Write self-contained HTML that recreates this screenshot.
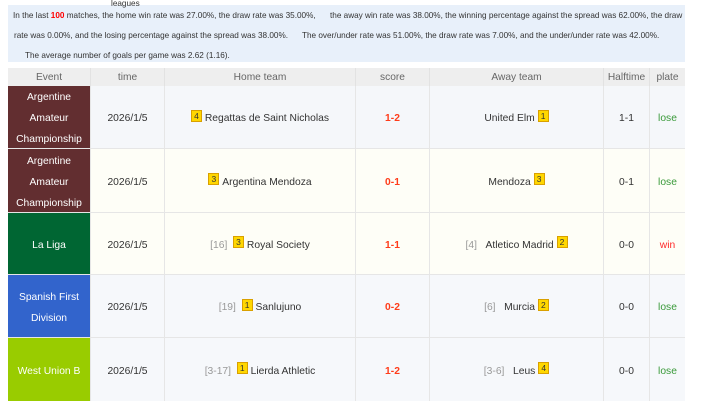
<!DOCTYPE html>
<html><head><meta charset="utf-8"><style>
*{margin:0;padding:0;box-sizing:border-box}
body{width:710px;height:419px;overflow:hidden;background:#fff;font-family:"Liberation Sans",Arial,sans-serif;position:relative;color:#333}
.a{position:absolute;white-space:pre}
.top{position:absolute;left:8px;top:5px;width:677px;height:57px;background:#e8f0fa}
.tt{font-size:8.2px;line-height:10px;color:#333}
.red{color:#f00;font-weight:bold}
.hdr{position:absolute;top:68px;height:18px;background:#eeeeee;color:#666;font-size:10.2px;display:flex;align-items:center;justify-content:center;border-right:1px solid #e2e2e2}
.row{position:absolute;left:8px;width:677px;border-bottom:1px solid #e6e6e6}
.c{position:absolute;top:0;height:100%;padding-top:3px;display:flex;align-items:center;justify-content:center;font-size:10.3px;color:#333;border-right:1px solid #e6e6e6;text-align:center}
.ev{color:#fff;line-height:21px;border-right:none}
.b{display:inline-block;width:11px;height:12px;background:#ffd700;border:1px solid #d9a000;font-size:8.5px;line-height:10px;text-align:center;color:#333;vertical-align:middle;position:relative;top:-3px}
.rk{color:#999}
.sc{color:#ff3c1a;font-weight:bold}
.lose{color:#3a9a3a}
.win{color:#ff2a2a}
</style></head><body>
<div class="top"></div>
<div class="a tt" style="left:111px;top:-1px">leagues</div>
<div class="a tt" style="left:13px;top:11px">In the last <span class="red">100</span> matches, the home win rate was 27.00%, the draw rate was 35.00%,</div>
<div class="a tt" style="left:330px;top:11px">the away win rate was 38.00%, the winning percentage against the spread was 62.00%, the draw</div>
<div class="a tt" style="left:14px;top:31px">rate was 0.00%, and the losing percentage against the spread was 38.00%.</div>
<div class="a tt" style="left:302px;top:31px">The over/under rate was 51.00%, the draw rate was 7.00%, and the under/under rate was 42.00%.</div>
<div class="a tt" style="left:25px;top:51px">The average number of goals per game was 2.62 (1.16).</div>

<div class="hdr" style="left:8px;width:83px">Event</div>
<div class="hdr" style="left:91px;width:74px">time</div>
<div class="hdr" style="left:165px;width:191px">Home team</div>
<div class="hdr" style="left:356px;width:74px">score</div>
<div class="hdr" style="left:430px;width:174px">Away team</div>
<div class="hdr" style="left:604px;width:46px">Halftime</div>
<div class="hdr" style="left:650px;width:35px;border-right:none">plate</div>

<!-- row 1 -->
<div class="row" style="top:86px;height:63px;background:#f5f7fa">
<div class="c ev" style="left:0;width:82px;background:#622e30">Argentine<br>Amateur<br>Championship</div>
<div class="c" style="left:82px;width:75px;border-left:1px solid #e6e6e6">2026/1/5</div>
<div class="c" style="left:157px;width:191px"><span class="b">4</span>&nbsp;Regattas de Saint Nicholas</div>
<div class="c sc" style="left:348px;width:74px">1-2</div>
<div class="c" style="left:422px;width:174px">United Elm&nbsp;<span class="b">1</span></div>
<div class="c" style="left:596px;width:46px">1-1</div>
<div class="c lose" style="left:642px;width:35px;border-right:none">lose</div>
</div>
<!-- row 2 -->
<div class="row" style="top:149px;height:64px;background:#fefef7">
<div class="c ev" style="left:0;width:82px;background:#622e30">Argentine<br>Amateur<br>Championship</div>
<div class="c" style="left:82px;width:75px;border-left:1px solid #e6e6e6">2026/1/5</div>
<div class="c" style="left:157px;width:191px"><span class="b">3</span>&nbsp;Argentina Mendoza</div>
<div class="c sc" style="left:348px;width:74px">0-1</div>
<div class="c" style="left:422px;width:174px">Mendoza&nbsp;<span class="b">3</span></div>
<div class="c" style="left:596px;width:46px">0-1</div>
<div class="c lose" style="left:642px;width:35px;border-right:none">lose</div>
</div>
<!-- row 3 -->
<div class="row" style="top:213px;height:62px;background:#fefef7">
<div class="c ev" style="left:0;width:82px;background:#006633">La Liga</div>
<div class="c" style="left:82px;width:75px;border-left:1px solid #e6e6e6">2026/1/5</div>
<div class="c" style="left:157px;width:191px"><span class="rk">[16]</span>&nbsp;&nbsp;<span class="b">3</span>&nbsp;Royal Society</div>
<div class="c sc" style="left:348px;width:74px">1-1</div>
<div class="c" style="left:422px;width:174px"><span class="rk">[4]</span>&nbsp;&nbsp;&nbsp;Atletico Madrid&nbsp;<span class="b">2</span></div>
<div class="c" style="left:596px;width:46px">0-0</div>
<div class="c win" style="left:642px;width:35px;border-right:none">win</div>
</div>
<!-- row 4 -->
<div class="row" style="top:275px;height:63px;background:#f6f8fb">
<div class="c ev" style="left:0;width:82px;background:#3264cc">Spanish First<br>Division</div>
<div class="c" style="left:82px;width:75px;border-left:1px solid #e6e6e6">2026/1/5</div>
<div class="c" style="left:157px;width:191px"><span class="rk">[19]</span>&nbsp;&nbsp;<span class="b">1</span>&nbsp;Sanlujuno</div>
<div class="c sc" style="left:348px;width:74px">0-2</div>
<div class="c" style="left:422px;width:174px"><span class="rk">[6]</span>&nbsp;&nbsp;&nbsp;Murcia&nbsp;<span class="b">2</span></div>
<div class="c" style="left:596px;width:46px">0-0</div>
<div class="c lose" style="left:642px;width:35px;border-right:none">lose</div>
</div>
<!-- row 5 -->
<div class="row" style="top:338px;height:63px;background:#f6f8fb;border-bottom:none">
<div class="c ev" style="left:0;width:82px;background:#99cc00">West Union B</div>
<div class="c" style="left:82px;width:75px;border-left:1px solid #e6e6e6">2026/1/5</div>
<div class="c" style="left:157px;width:191px"><span class="rk">[3-17]</span>&nbsp;&nbsp;<span class="b">1</span>&nbsp;Lierda Athletic</div>
<div class="c sc" style="left:348px;width:74px">1-2</div>
<div class="c" style="left:422px;width:174px"><span class="rk">[3-6]</span>&nbsp;&nbsp;&nbsp;Leus&nbsp;<span class="b">4</span></div>
<div class="c" style="left:596px;width:46px">0-0</div>
<div class="c lose" style="left:642px;width:35px;border-right:none">lose</div>
</div>
</body></html>
